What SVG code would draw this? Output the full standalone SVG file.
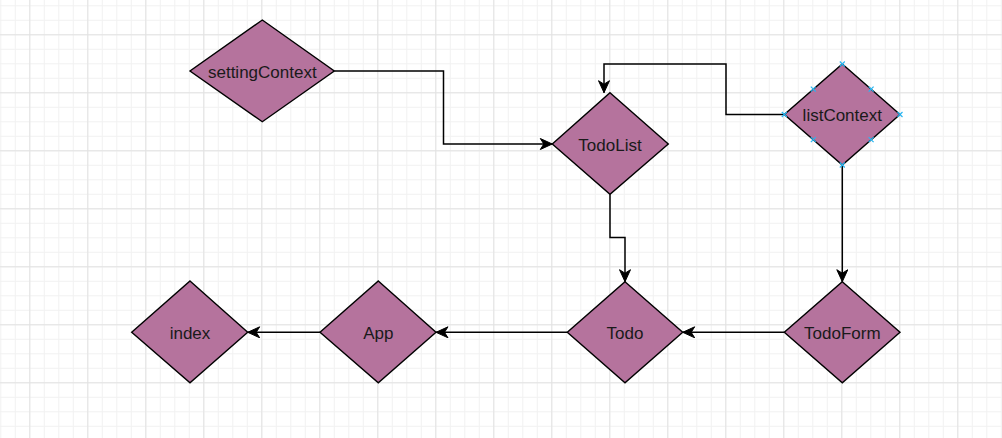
<svg xmlns="http://www.w3.org/2000/svg" width="1002" height="438" viewBox="0 0 1002 438">
<style>
.node{fill:#B5739D;stroke:#000;stroke-width:1.4;stroke-linejoin:miter}
.lbl{font-family:"Liberation Sans",Arial,sans-serif;font-size:17px;fill:#1a1a1a;text-anchor:middle;dominant-baseline:central}
.edge{fill:none;stroke:#000;stroke-width:1.5;marker-end:url(#arr)}
.hp{stroke:#29b6f2;stroke-width:1.2;fill:none}
</style>
<defs>
<pattern id="minor" patternUnits="userSpaceOnUse" x="0.3" y="5.3" width="14.5" height="14.5">
<path d="M0.5 0V14.5M0 0.5H14.5" stroke="#f1f1f1" stroke-width="1" fill="none"/>
</pattern>
<pattern id="major" patternUnits="userSpaceOnUse" x="29.3" y="34.3" width="58" height="58">
<path d="M0.5 0V58M0 0.5H58" stroke="#e2e2e2" stroke-width="1" fill="none"/>
</pattern>
<marker id="arr" markerUnits="userSpaceOnUse" markerWidth="14" markerHeight="12" viewBox="0 0 14 12" refX="13" refY="6" orient="auto">
<path d="M13 6L1 0.5L4.5 6L1 11.5Z" fill="#000" stroke="#000" stroke-width="1"/>
</marker>
</defs>
<rect width="1002" height="438" fill="#fff"/>
<rect width="1002" height="438" fill="url(#minor)"/>
<rect width="1002" height="438" fill="url(#major)"/>
<g id="connectors">
<path class="edge" d="M334.3 71H443.5V144H552.3"/>
<path class="edge" d="M784.3 114.5H726V64H604V92.7"/>
<path class="edge" d="M610 194.3V237.5H625V281.7"/>
<path class="edge" d="M842.3 165V281.7"/>
<path class="edge" d="M784.3 332.3H682.7"/>
<path class="edge" d="M567.3 332.3H436"/>
<path class="edge" d="M320 332.3H247.7"/>
</g>
<g id="settingContext">
<polygon class="node" points="262.3,20 334.3,71 262.3,121.7 190,71"/>
<text class="lbl" x="262.3" y="72">settingContext</text>
</g>
<g id="TodoList">
<polygon class="node" points="610,92.7 668.3,144 610,194.3 552.3,144"/>
<text class="lbl" x="610" y="145">TodoList</text>
</g>
<g id="listContext">
<polygon class="node" points="842.3,64 900,114.5 842.3,165 784.3,114.5"/>
<text class="lbl" x="842.3" y="115.5">listContext</text>
<path class="hp" d="M839.8 61.5l5 5m0-5l-5 5M897.5 112l5 5m0-5l-5 5M839.8 162.5l5 5m0-5l-5 5M781.8 112l5 5m0-5l-5 5M810.8 86.7l5 5m0-5l-5 5M868.6 86.7l5 5m0-5l-5 5M810.8 137.2l5 5m0-5l-5 5M868.6 137.2l5 5m0-5l-5 5"/>
</g>
<g id="index">
<polygon class="node" points="190,281 247.7,332.3 190,382.7 131.7,332.3"/>
<text class="lbl" x="190" y="333.3">index</text>
</g>
<g id="App">
<polygon class="node" points="378.3,281 436,332.3 378.3,382.7 320,332.3"/>
<text class="lbl" x="378.3" y="333.3">App</text>
</g>
<g id="Todo">
<polygon class="node" points="625,281.7 682.7,332.3 625,382.7 567.3,332.3"/>
<text class="lbl" x="625" y="333.3">Todo</text>
</g>
<g id="TodoForm">
<polygon class="node" points="842.3,281.7 900,332.3 842.3,382.7 784.3,332.3"/>
<text class="lbl" x="842.3" y="333.3">TodoForm</text>
</g>
</svg>
